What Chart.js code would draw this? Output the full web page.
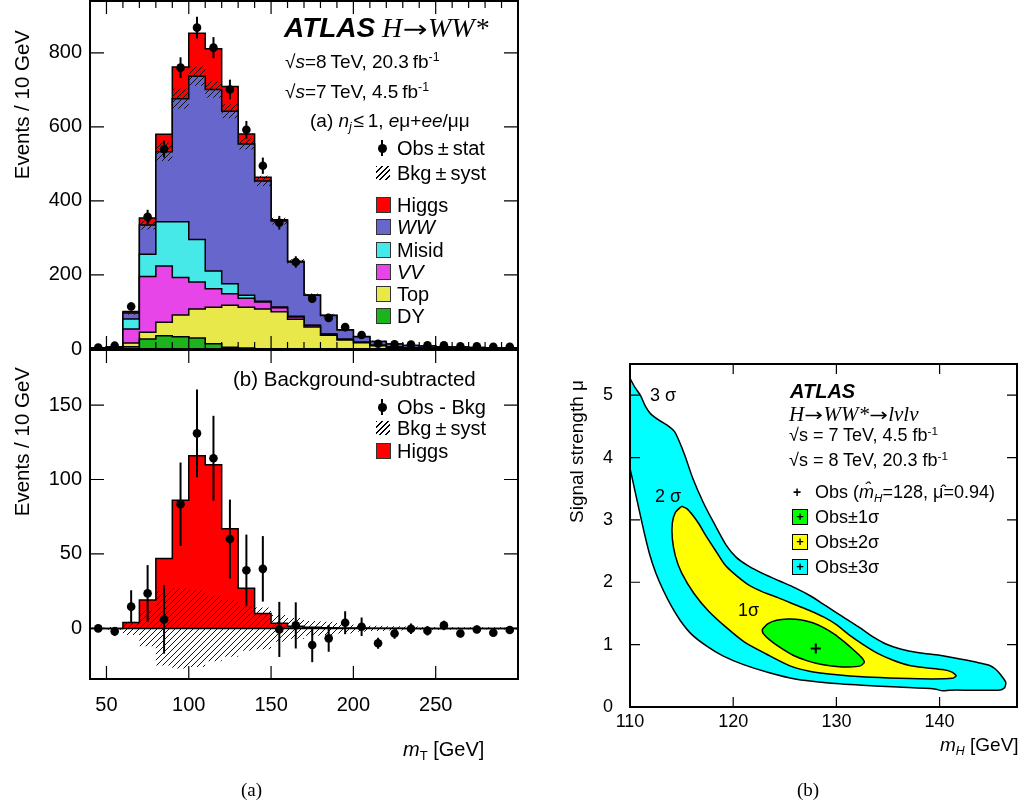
<!DOCTYPE html>
<html>
<head>
<meta charset="utf-8">
<script src="https://cdn.jsdelivr.net/npm/chart.js@4.4.1/dist/chart.umd.min.js"></script>
<style>
html,body{margin:0;padding:0;background:#fff;}
#wrap{position:relative;width:1019px;height:807px;overflow:hidden;font-family:"Liberation Sans",Arial,Helvetica,sans-serif;color:#000;}
canvas{position:absolute;}
.t{position:absolute;white-space:nowrap;line-height:1;}
.serif{font-family:"Liberation Serif","Times New Roman",serif;}
.arr{font-family:"DejaVu Sans",sans-serif;font-style:normal;font-size:0.85em;display:inline-block;transform:scaleX(1.25);margin:0 0.12em;}
.sup{position:relative;top:-0.55em;font-size:0.65em;}
.sub{position:relative;top:0.3em;font-size:0.65em;}
.vt{position:absolute;white-space:nowrap;line-height:1;writing-mode:vertical-rl;transform:rotate(180deg);}
.box{position:absolute;width:13px;height:14px;border:1px solid #333;}
.hatch{position:absolute;width:14px;height:14px;background:repeating-linear-gradient(135deg,#000 0 1.3px,transparent 1.3px 4px);}
.dot{position:absolute;width:9px;height:9px;border-radius:50%;background:#000;}
.ebar{position:absolute;width:2px;background:#000;}
.cbox{position:absolute;width:14px;height:14px;border:1px solid #000;font:bold 13px "Liberation Sans";text-align:center;line-height:14px;}
</style>
</head>
<body>
<div id="wrap">
<canvas id="cA" width="530" height="399" style="left:0;top:-19px"></canvas>
<canvas id="cB" width="530" height="410" style="left:0;top:330px"></canvas>
<canvas id="cC" width="459" height="434" style="left:560px;top:336px"></canvas>

<!-- top-left annotations -->
<div class="t" style="left:284px;top:14px;font-size:28px;font-weight:bold;font-style:italic;">ATLAS</div>
<div class="t serif" style="left:382px;top:14px;font-size:28px;font-style:italic;">H<span class="arr">→</span>WW*</div>
<div class="t" style="left:285px;top:52px;font-size:19px;">√<i>s</i>=8&#8201;TeV, 20.3&#8201;fb<span class="sup">-1</span></div>
<div class="t" style="left:285px;top:82px;font-size:19px;">√<i>s</i>=7&#8201;TeV, 4.5&#8201;fb<span class="sup">-1</span></div>
<div class="t" style="left:310px;top:111px;font-size:19px;">(a) <i>n<span class="sub">j</span></i>&#8202;≤&#8201;1, <i>e</i>μ+<i>ee</i>/μμ</div>

<div class="ebar" style="left:381px;top:140px;height:16px;"></div>
<div class="dot" style="left:377.5px;top:143.5px;"></div>
<div class="t" style="left:397px;top:138px;font-size:20px;">Obs&#8201;±&#8201;stat</div>
<div class="hatch" style="left:376px;top:166px;"></div>
<div class="t" style="left:397px;top:163px;font-size:20px;">Bkg&#8201;±&#8201;syst</div>
<div class="box" style="left:376px;top:197px;background:#ff0000;"></div>
<div class="t" style="left:397px;top:195px;font-size:20px;">Higgs</div>
<div class="box" style="left:376px;top:219px;background:#6666cc;"></div>
<div class="t" style="left:397px;top:217px;font-size:20px;"><i>WW</i></div>
<div class="box" style="left:376px;top:242px;background:#46e8e8;"></div>
<div class="t" style="left:397px;top:239.5px;font-size:20px;">Misid</div>
<div class="box" style="left:376px;top:264px;background:#e845e8;"></div>
<div class="t" style="left:397px;top:262px;font-size:20px;"><i>VV</i></div>
<div class="box" style="left:376px;top:286px;background:#e8e84a;"></div>
<div class="t" style="left:397px;top:284px;font-size:20px;">Top</div>
<div class="box" style="left:376px;top:308px;background:#1db31d;"></div>
<div class="t" style="left:397px;top:306px;font-size:20px;">DY</div>

<!-- bottom-left annotations -->
<div class="t" style="left:233px;top:369px;font-size:20.5px;">(b) Background-subtracted</div>
<div class="ebar" style="left:381px;top:399px;height:16px;"></div>
<div class="dot" style="left:377.5px;top:402.5px;"></div>
<div class="t" style="left:397px;top:397px;font-size:20px;">Obs - Bkg</div>
<div class="hatch" style="left:376px;top:421px;"></div>
<div class="t" style="left:397px;top:418px;font-size:20px;">Bkg&#8201;±&#8201;syst</div>
<div class="box" style="left:376px;top:443px;background:#ff0000;"></div>
<div class="t" style="left:397px;top:440.5px;font-size:20px;">Higgs</div>

<div class="vt" style="left:11.5px;top:30px;font-size:20.5px;">Events / 10 GeV</div>
<div class="vt" style="left:11.5px;top:367px;font-size:20.5px;">Events / 10 GeV</div>
<div class="t" style="left:403px;top:739px;font-size:20px;"><i>m</i><span class="sub">T</span> [GeV]</div>
<div class="t serif" style="left:241px;top:780px;font-size:19px;">(a)</div>

<!-- right panel annotations -->
<div class="t" style="left:790px;top:381px;font-size:20px;font-weight:bold;font-style:italic;">ATLAS</div>
<div class="t serif" style="left:789px;top:404px;font-size:21px;font-style:italic;">H<span class="arr">→</span>WW*<span class="arr">→</span>lνlν</div>
<div class="t" style="left:789px;top:426px;font-size:18px;">√s = 7 TeV, 4.5 fb<span class="sup">-1</span></div>
<div class="t" style="left:789px;top:451px;font-size:18px;">√s = 8 TeV, 20.3 fb<span class="sup">-1</span></div>
<div class="t" style="left:793px;top:484px;font:bold 14px 'Liberation Sans';">+</div>
<div class="t" style="left:815px;top:483px;font-size:18px;">Obs (<i>m&#770;</i><span class="sub"><i>H</i></span>=128, μ&#770;=0.94)</div>
<div class="cbox" style="left:792px;top:509px;background:#00ff00;">+</div>
<div class="t" style="left:815px;top:508px;font-size:18px;">Obs±1σ</div>
<div class="cbox" style="left:792px;top:534px;background:#ffff00;">+</div>
<div class="t" style="left:815px;top:533px;font-size:18px;">Obs±2σ</div>
<div class="cbox" style="left:792px;top:559px;background:#00ffff;">+</div>
<div class="t" style="left:815px;top:558px;font-size:18px;">Obs±3σ</div>
<div class="t" style="left:650px;top:386px;font-size:18px;">3 σ</div>
<div class="t" style="left:655px;top:487px;font-size:18px;">2 σ</div>
<div class="t" style="left:738px;top:601px;font-size:18px;">1σ</div>
<div class="vt" style="left:566.5px;top:380px;font-size:19px;">Signal strength &#956;</div>
<div class="t" style="left:940px;top:735px;font-size:19px;"><i>m<span class="sub">H</span></i> [GeV]</div>
<div class="t serif" style="left:797px;top:780px;font-size:19px;">(b)</div>
</div>

<script>
// ---------------- data ----------------
const mtEdges   = [40,50,60,70,80,90,100,110,120,130,140,150,160,170,180,190,200,210,220,230,240,250,260,270,280,290,300];
const dyVals    = [1,2,6,27,36,33,30,14,5,3,1,0.5,0.3,0.2,0,0,0,0,0,0,0,0,0,0,0,0];
const topVals   = [1,2,10,18,36,59,78,99,113,110,107,100,80,59,37,24,17,9,5,3,2,2,1,1,1,1];
const vvVals    = [0.5,1,38,151,152,101,73,50,31,24,19,11,6,4,3,2,1,1,0.5,0.5,0.3,0.3,0.2,0.2,0.1,0.1];
const misidVals = [0.3,0.5,27,60,120,151,115,48,27,8,2,2,2,1,0.5,0.5,0.3,0.3,0.2,0.2,0.1,0.1,0.1,0.1,0.1,0.1];
const wwVals    = [0.3,0.5,16,79,189,332,441,490,466,409,325,232,147,81,50,25,15,10,8,6,6,4,4,3,2,2];
const higgsVals = [0,0,4,19,47,86,116,110,67,27,10,3.4,1.5,0.7,0.4,0.3,0.2,0.1,0.1,0,0,0,0,0,0,0];
const bkgSyst   = [0.5,1,4.5,12,25,27,26,22,19,15,14,9,7,5,4.5,3.4,2.2,1.8,1.5,1.2,1,1,0.8,0.8,0.7,0.7];
const obsVals   = [4,9,115,357,540,760,868,814,701,592,495,341,235,136,84,59,38,14,13,12,10,10,7,7,6,6];
const obsErr    = [2,3,11,19,23,28,29.5,28.5,26.5,24,22,18.5,15.5,11.5,9,7.7,6.2,3.7,3.6,3.5,3.2,3.2,2.6,2.6,2.4,2.4];
const subVals   = [0,-2,14.6,23.5,6,83.4,131,114.3,60,39,40,-0.7,2,-11.2,-6.7,3.8,1.1,-10,-3.4,-0.2,-1.6,2,-3.4,-0.7,-2.9,-1.1];

const topYTicks = [0,200,400,600,800];
const botYTicks = [0,50,100,150];
const mtTicks   = [50,100,150,200,250];
const mhTicks   = [110,120,130,140];
const muTicks   = [0,1,2,3,4,5];

// contours in (mH [GeV], mu)
const sigma3Contour = [[110,5.27],[110.5,5.12],[111,5.0],[111.5,4.82],[112,4.70],[112.8,4.60],[113.6,4.52],[114.3,4.42],[114.8,4.25],[115.3,4.04],[116.1,3.66],[117.1,3.28],[118.1,2.96],[119.3,2.6],[120.3,2.4],[121.5,2.26],[123,2.13],[124.5,2.02],[126,1.91],[127.5,1.78],[129,1.62],[130.6,1.45],[132.2,1.28],[133.6,1.12],[134.8,1.01],[136.2,0.93],[138,0.87],[140,0.83],[142,0.77],[143.5,0.72],[144.8,0.67],[145.4,0.61],[145.9,0.52],[146.4,0.40],[146.3,0.31],[145.7,0.27],[143,0.27],[141,0.27],[140.3,0.26],[139.5,0.29],[136,0.32],[132.5,0.35],[129,0.39],[126,0.45],[123.5,0.55],[121,0.68],[119,0.82],[117.4,0.98],[116,1.16],[114.9,1.38],[114,1.62],[113.2,1.88],[112.5,2.15],[111.9,2.45],[111.4,2.78],[110.9,3.15],[110.5,3.45],[110.2,3.68],[110,3.85],[110,5.27]];
const sigma2Contour = [[115,3.22],[115.5,3.18],[116.1,3.07],[116.7,2.93],[117.3,2.76],[118.4,2.48],[119.2,2.28],[120,2.15],[121.3,1.98],[122.8,1.85],[124.4,1.75],[126,1.64],[127.5,1.54],[128.8,1.44],[130,1.32],[131.2,1.16],[132.6,1.0],[134,0.86],[135.5,0.75],[137,0.67],[138.6,0.63],[140.3,0.60],[141.2,0.56],[141.6,0.50],[141.2,0.46],[139.3,0.45],[136.1,0.46],[132.9,0.48],[129.8,0.52],[127.5,0.57],[125.5,0.66],[123.2,0.85],[121.1,1.04],[119.3,1.28],[117.6,1.54],[116.2,1.82],[115,2.15],[114.4,2.42],[114.1,2.7],[114.1,2.95],[114.4,3.12],[115,3.22]];
const sigma1Contour = [[122.8,1.24],[123.3,1.33],[124.2,1.39],[125.3,1.41],[126.5,1.40],[127.7,1.35],[128.8,1.27],[129.8,1.17],[130.8,1.04],[131.7,0.91],[132.4,0.80],[132.7,0.72],[132.3,0.66],[131.2,0.64],[130,0.65],[128.6,0.68],[127.2,0.74],[125.8,0.83],[124.5,0.96],[123.5,1.08],[122.9,1.18],[122.8,1.24]];
const bestFit = [128, 0.94];

// ---------------- helpers ----------------
const FONT = '"Liberation Sans", Arial, sans-serif';
const nb = mtEdges.length - 1;
function stepData(vals){
  const d = [];
  for (let i = 0; i < nb; i++) d.push({x: mtEdges[i], y: vals[i]});
  d.push({x: mtEdges[nb], y: vals[nb-1]});
  return d;
}
function centerData(vals){
  const d = [];
  for (let i = 0; i < nb; i++) d.push({x: (mtEdges[i] + mtEdges[i+1]) / 2, y: vals[i]});
  return d;
}
const bkgTotal = dyVals.map((v,i)=>v+topVals[i]+vvVals[i]+misidVals[i]+wwVals[i]);
function makeHatch(){
  const c = document.createElement('canvas'); c.width = 6; c.height = 6;
  const g = c.getContext('2d');
  g.strokeStyle = '#111'; g.lineWidth = 1;
  g.beginPath();
  g.moveTo(0,6); g.lineTo(6,0);
  g.moveTo(-1,1); g.lineTo(1,-1);
  g.moveTo(5,7); g.lineTo(7,5);
  g.stroke();
  return g.createPattern(c,'repeat');
}
const hatchPat = makeHatch();
const near = (v, m) => Math.abs(v/m - Math.round(v/m)) < 1e-6;

const frameTicks = {
  id: 'frameTicks',
  afterDatasetsDraw(chart, args, opts){
    const ctx = chart.ctx, a = chart.chartArea;
    ctx.save();
    if (opts.zeroLine) {
      const y0 = chart.scales.y.getPixelForValue(0);
      ctx.strokeStyle = '#000'; ctx.lineWidth = 1.5;
      ctx.beginPath(); ctx.moveTo(a.left, y0); ctx.lineTo(a.right, y0); ctx.stroke();
    }
    ctx.restore();
  },
  afterDraw(chart, args, opts){
    const ctx = chart.ctx, a = chart.chartArea;
    ctx.save();
    ctx.strokeStyle = '#000'; ctx.lineWidth = 1.2;
    for (const id of Object.keys(opts.axes || {})) {
      const spec = opts.axes[id], s = chart.scales[id];
      s.ticks.forEach(t => {
        const v = t.value;
        let len = spec.len[2];
        if (near(v, spec.major)) len = spec.len[0];
        else if (spec.mid && near(v, spec.mid)) len = spec.len[1];
        const p = s.getPixelForValue(v);
        ctx.beginPath();
        if (s.isHorizontal()) {
          ctx.moveTo(p, a.bottom); ctx.lineTo(p, a.bottom - len);
          ctx.moveTo(p, a.top); ctx.lineTo(p, a.top + len);
        } else {
          ctx.moveTo(a.left, p); ctx.lineTo(a.left + len, p);
          ctx.moveTo(a.right, p); ctx.lineTo(a.right - len, p);
        }
        ctx.stroke();
      });
    }
    ctx.lineWidth = 2;
    ctx.strokeRect(a.left, a.top, a.right - a.left, a.bottom - a.top);
    ctx.restore();
  }
};
const errBars = {
  id: 'errBars',
  afterDatasetsDraw(chart){
    const ctx = chart.ctx, a = chart.chartArea;
    chart.data.datasets.forEach((ds, i) => {
      if (!ds.errors) return;
      const meta = chart.getDatasetMeta(i);
      const ys = chart.scales[meta.yAxisID];
      ctx.save();
      ctx.beginPath(); ctx.rect(a.left, a.top, a.right - a.left, a.bottom - a.top); ctx.clip();
      ctx.strokeStyle = '#000'; ctx.lineWidth = 2;
      meta.data.forEach((pt, j) => {
        const v = ds.data[j].y, e = ds.errors[j];
        ctx.beginPath();
        ctx.moveTo(pt.x, ys.getPixelForValue(v - e));
        ctx.lineTo(pt.x, ys.getPixelForValue(v + e));
        ctx.stroke();
      });
      ctx.restore();
    });
  }
};
Chart.register(frameTicks, errBars);

// order: lower order = lower in the stack
function stackDs(label, vals, color, fill, order){
  return {label, data: stepData(vals), stepped: 'before', backgroundColor: color, borderColor: '#000',
    borderWidth: 1.5, pointRadius: 0, fill, order, yAxisID: 'y'};
}
const tickFont = {family: FONT, size: 20};

// ---------------- chart A: stacked mT ----------------
new Chart(document.getElementById('cA'), {
  type: 'line',
  data: { datasets: [
    {label: 'Obs', data: centerData(obsVals), errors: obsErr, showLine: false, pointRadius: 4.3,
      pointBackgroundColor: '#000', pointBorderWidth: 0, yAxisID: 'yh', order: 0},
    {label: 'bkgLow', data: stepData(bkgTotal.map((v,i)=>v-bkgSyst[i])), stepped: 'before', borderWidth: 0,
      pointRadius: 0, fill: false, yAxisID: 'yh', order: 1},
    {label: 'bkgHigh', data: stepData(bkgTotal.map((v,i)=>v+bkgSyst[i])), stepped: 'before', borderWidth: 0,
      pointRadius: 0, fill: 1, backgroundColor: hatchPat, yAxisID: 'yh', order: 1},
    stackDs('DY', dyVals, '#1db31d', 'origin', 5),
    stackDs('Top', topVals, '#e8e84a', '-1', 6),
    stackDs('VV', vvVals, '#e845e8', '-1', 7),
    stackDs('Misid', misidVals, '#46e8e8', '-1', 8),
    stackDs('WW', wwVals, '#6666cc', '-1', 9),
    stackDs('Higgs', higgsVals, '#ff0000', '-1', 10)
  ]},
  options: {
    responsive: false, animation: false, events: [],
    layout: {autoPadding: false, padding: {left: 0, top: 20, right: 12, bottom: 0}},
    plugins: {legend: {display: false}, tooltip: {enabled: false},
      frameTicks: {axes: {x: {major: 50, len: [13, 13, 7]}, y: {major: 200, len: [14, 14, 7]}}}},
    scales: {
      x: {type: 'linear', min: mtEdges[0], max: mtEdges[nb], grid: {display: false, drawTicks: false}, border: {display: false},
          ticks: {display: false, stepSize: 10, autoSkip: false, includeBounds: false},
          afterFit: s => { s.height = 31; }},
      y: {stacked: true, min: 0, max: 940, grid: {display: false, drawTicks: false}, border: {display: false},
          ticks: {stepSize: 50, autoSkip: false, includeBounds: false, padding: 8, color: '#000', font: tickFont,
                  callback: v => topYTicks.includes(v) ? String(v) : null},
          afterFit: s => { s.width = 90; }},
      yh: {type: 'linear', display: false, stacked: false, min: 0, max: 940}
    }
  }
});

// ---------------- chart B: background subtracted ----------------
new Chart(document.getElementById('cB'), {
  type: 'line',
  data: { datasets: [
    {label: 'Obs - Bkg', data: centerData(subVals), errors: obsErr, showLine: false, pointRadius: 4.3,
      pointBackgroundColor: '#000', pointBorderWidth: 0, order: 0},
    {label: 'systLow', data: stepData(bkgSyst.map(v=>-v)), stepped: 'before', borderWidth: 0, pointRadius: 0, fill: false, order: 1},
    {label: 'systHigh', data: stepData(bkgSyst), stepped: 'before', borderWidth: 0, pointRadius: 0, fill: 1,
      backgroundColor: hatchPat, order: 1},
    {label: 'Higgs', data: stepData(higgsVals), stepped: 'before', borderWidth: 1.5, borderColor: '#000',
      backgroundColor: '#ff0000', pointRadius: 0, fill: 'origin', order: 3}
  ]},
  options: {
    responsive: false, animation: false, events: [],
    layout: {autoPadding: false, padding: {left: 0, top: 20, right: 12, bottom: 0}},
    plugins: {legend: {display: false}, tooltip: {enabled: false},
      frameTicks: {zeroLine: true, axes: {x: {major: 50, len: [13, 13, 7]}, y: {major: 50, len: [14, 14, 7]}}}},
    scales: {
      x: {type: 'linear', min: mtEdges[0], max: mtEdges[nb], grid: {display: false, drawTicks: false}, border: {display: false},
          ticks: {stepSize: 10, autoSkip: false, includeBounds: false, padding: 14, color: '#000', font: tickFont, maxRotation: 0,
                  callback: v => mtTicks.includes(v) ? String(v) : null},
          afterFit: s => { s.height = 61; }},
      y: {min: -34, max: 187, grid: {display: false, drawTicks: false}, border: {display: false},
          ticks: {stepSize: 10, autoSkip: false, includeBounds: false, padding: 8, color: '#000', font: tickFont,
                  callback: v => botYTicks.includes(v) ? String(v) : null},
          afterFit: s => { s.width = 90; }}
    }
  }
});

// ---------------- chart C: contours ----------------
const toXY = arr => arr.map(p => ({x: p[0], y: p[1]}));
function contourDs(label, pts, color, order){
  return {label, data: toXY(pts), showLine: true, fill: 'shape', backgroundColor: color, borderColor: '#000',
    borderWidth: 1.5, pointRadius: 0, tension: 0.25, order};
}
new Chart(document.getElementById('cC'), {
  type: 'scatter',
  data: { datasets: [
    {label: 'Obs', data: [{x: bestFit[0], y: bestFit[1]}], pointStyle: 'cross', pointRadius: 5,
      pointBorderWidth: 2, borderColor: '#000', pointBorderColor: '#000', showLine: false, order: 0},
    contourDs('Obs±1σ', sigma1Contour, '#00ff00', 1),
    contourDs('Obs±2σ', sigma2Contour, '#ffff00', 2),
    contourDs('Obs±3σ', sigma3Contour, '#00ffff', 3)
  ]},
  options: {
    responsive: false, animation: false, events: [],
    layout: {autoPadding: false, padding: {left: 0, top: 28, right: 2, bottom: 0}},
    plugins: {legend: {display: false}, tooltip: {enabled: false},
      frameTicks: {axes: {x: {major: 10, mid: 5, len: [10, 8, 5]}, y: {major: 1, len: [10, 10, 5]}}}},
    scales: {
      x: {type: 'linear', min: 110, max: 147.5, grid: {display: false, drawTicks: false}, border: {display: false},
          ticks: {stepSize: 1, autoSkip: false, includeBounds: false, padding: 4, color: '#000', font: {family: FONT, size: 18}, maxRotation: 0,
                  callback: v => mhTicks.includes(v) ? String(v) : null},
          afterFit: s => { s.height = 63; }},
      y: {type: 'linear', min: 0, max: 5.5, grid: {display: false, drawTicks: false}, border: {display: false},
          ticks: {stepSize: 0.2, autoSkip: false, includeBounds: false, padding: 17, color: '#000', font: {family: FONT, size: 18},
                  callback: v => { const r = Math.round(v); return (Math.abs(v - r) < 1e-6 && muTicks.includes(r)) ? String(r) : null; }},
          afterFit: s => { s.width = 70; }}
    }
  }
});
</script>
</body>
</html>
